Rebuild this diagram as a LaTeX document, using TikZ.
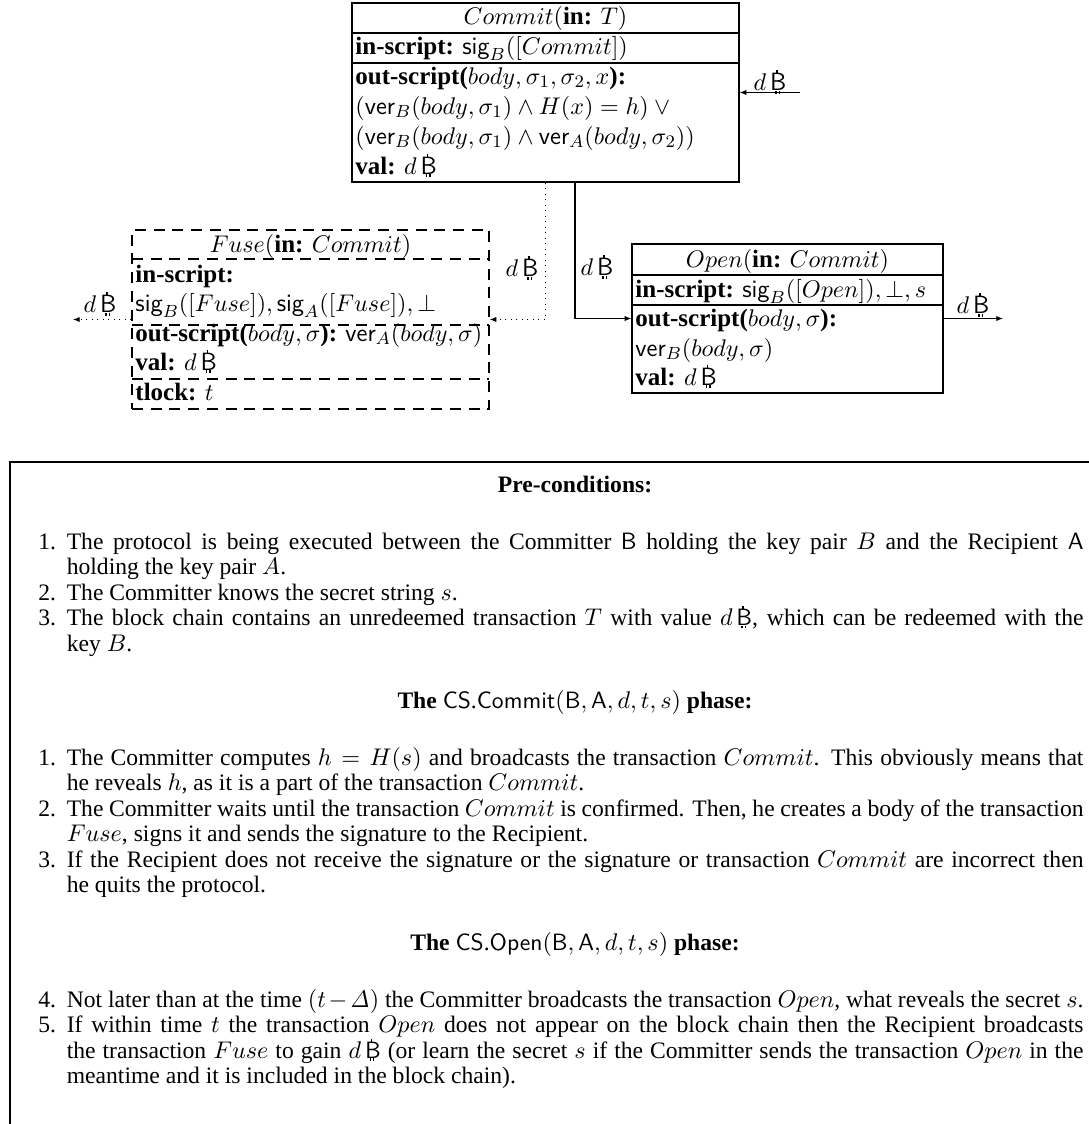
\documentclass[tikz,border=0pt]{standalone}
\usepackage[no-math]{fontspec}
\setmainfont{Liberation Serif}
\usetikzlibrary{arrows.meta,fit}

\newcommand\btc{\mbox{\sffamily\makebox[0pt][l]{\hspace{0.2em}\rule[-0.12em]{0.06em}{0.12em}\hspace{0.08em}\rule[-0.12em]{0.06em}{0.12em}}\makebox[0pt][l]{\hspace{0.25em}\rule[0.69em]{0.06em}{0.13em}}B}}
\newcommand\sg{\textsf{sig}}
\newcommand\vr{\textsf{ver}}
\newcommand\boxfont{\fontsize{11.36}{13.52}\selectfont}
\newcommand\listfont{\fontsize{10.73}{11.6}\selectfont}
\newcommand\itm[1]{\par\noindent\hangindent=12.9pt\hangafter=1\makebox[12.9pt][l]{#1}\ignorespaces}

\tikzset{
  tbox/.style={draw, line width=0.6pt, inner sep=0pt},
  fusebox/.style={tbox, dash pattern=on 5pt off 3.5pt},
  sepline/.style={line width=0.6pt},
  fsepline/.style={sepline, dash pattern=on 5pt off 3.5pt},
  conn/.style={line width=0.5pt, -{Latex[length=3pt,width=2.4pt]}},
  dconn/.style={conn, dotted},
  txt/.style={inner sep=0pt, anchor=base west, font=\boxfont},
  ttl/.style={inner sep=0pt, anchor=base, font=\boxfont},
  lab/.style={inner sep=0pt, font=\boxfont},
  head/.style={inner sep=0pt, anchor=base, font=\listfont},
  lst/.style={inner sep=0pt, anchor=base west, font=\listfont},
}

\begin{document}
\begin{tikzpicture}[x=0.4545pt,y=-0.4545pt]
\useasboundingbox (0,0) rectangle (1089,1124);

% ---------- Commit ----------
\node[tbox, fit={(352,3) (739,182)}] (commit) {};
\draw[sepline] (352,33) -- (739,33);
\draw[sepline] (352,63) -- (739,63);
\node[ttl] (c0) at (545.5,24) {$Commit($\textbf{in:} $T)$};
\node[txt] (c1) at (355,54) {\textbf{in-script:} $\sg_B([Commit])$};
\node[txt] (c2) at (355,84) {\textbf{out-script(}$body,\sigma_1,\sigma_2,x$\textbf{):}};
\node[txt] (c3) at (355,114) {$(\vr_B(body,\sigma_1)\wedge H(x)=h)\vee{}$};
\node[txt] (c4) at (355,144) {$(\vr_B(body,\sigma_1)\wedge\vr_A(body,\sigma_2))$};
\node[txt] (c5) at (355,174) {\textbf{val:} $d$\,\btc};

% ---------- Fuse ----------
\node[fusebox, fit={(132,230) (489,409)}] (fuse) {};
\draw[fsepline] (132,259) -- (489,259);
\draw[fsepline] (132,325) -- (489,325);
\draw[fsepline] (132,379) -- (489,379);
\node[ttl] (f0) at (310.5,252) {$Fuse($\textbf{in:} $Commit)$};
\node[txt] (f1) at (135,282) {\textbf{in-script:}};
\node[txt] (f2) at (135,311) {$\sg_B([Fuse]),\sg_A([Fuse]),\bot$};
\node[txt] (f3) at (135,341) {\textbf{out-script(}$body,\sigma$\textbf{):} $\vr_A(body,\sigma)$};
\node[txt] (f4) at (135,370) {\textbf{val:} $d$\,\btc};
\node[txt] (f5) at (135,400) {\textbf{tlock:} $t$};

% ---------- Open ----------
\node[tbox, fit={(632,244) (943,393)}] (open) {};
\draw[sepline] (632,275) -- (943,275);
\draw[sepline] (632,305) -- (943,305);
\node[ttl] (o0) at (787.5,267) {$Open($\textbf{in:} $Commit)$};
\node[txt] (o1) at (635,297) {\textbf{in-script:} $\sg_B([Open]),\bot,s$};
\node[txt] (o2) at (635,326) {\textbf{out-script(}$body,\sigma$\textbf{):}};
\node[txt] (o3) at (635,356) {$\vr_B(body,\sigma)$};
\node[txt] (o4) at (635,385) {\textbf{val:} $d$\,\btc};

% ---------- connectors ----------
\coordinate (cin) at (800,92.5);
\coordinate (fout) at (73,319.5);
\coordinate (oout) at (1003,318.5);
\draw[conn] (cin) -- (commit.east);
\draw[dconn] (commit.south) |- (fuse.east);
\draw[conn] ([xshift=13.4pt]commit.south) |- (open.west);
\draw[dconn] (fuse.west) -- (fout);
\draw[conn] (open.east) -- (oout);

\node[lab] (l1) at (770,82) {$d$\,\btc};
\node[lab] (l2) at (522,268) {$d$\,\btc};
\node[lab] (l3) at (597,267) {$d$\,\btc};
\node[lab] (l4) at (100,304) {$d$\,\btc};
\node[lab] (l5) at (973,305) {$d$\,\btc};

% ---------- protocol text ----------
\draw[sepline] (10,1124) -- (10,462) -- (1089,462);

\node[head] (h1) at (575,492) {\textbf{Pre-conditions:}};
\node[lst] (p1) at (38,549) {\begin{minipage}[t]{475pt}\tolerance=9999
\itm{1.}The protocol is being executed between the Committer \textsf{B} holding the key pair $B$ and the Recipient \textsf{A}\linebreak holding the key pair $A$.
\itm{2.}The Committer knows the secret string $s$.
\itm{3.}The block chain contains an unredeemed transaction $T$ with value $d$\,\btc, which can be redeemed with the\linebreak key $B$.
\end{minipage}};

\node[head] (h2) at (575,708) {\textbf{The} \textsf{CS}.\textsf{Commit}$(\textsf{B},\textsf{A},d,t,s)$ \textbf{phase:}};
\node[lst] (p2) at (38,765) {\begin{minipage}[t]{475pt}\tolerance=9999
\itm{1.}The Committer computes $h=H(s)$ and broadcasts the transaction $Commit$. This obviously means that\linebreak he reveals $h$, as it is a part of the transaction $Commit$.
\itm{2.}The Committer waits until the transaction $Commit$ is confirmed. Then, he creates a body of the transaction\linebreak $Fuse$, signs it and sends the signature to the Recipient.
\itm{3.}If the Recipient does not receive the signature or the signature or transaction $Commit$ are incorrect then\linebreak he quits the protocol.
\end{minipage}};

\node[head] (h3) at (575,950) {\textbf{The} \textsf{CS}.\textsf{Open}$(\textsf{B},\textsf{A},d,t,s)$ \textbf{phase:}};
\node[lst] (p3) at (38,1007) {\begin{minipage}[t]{475pt}\tolerance=9999
\itm{4.}Not later than at the time $(t\mkern2mu{-}\mkern2mu\mathit{\Delta})$ the Committer broadcasts the transaction $Open$, what reveals the secret $s$.
\itm{5.}If within time $t$ the transaction $Open$ does not appear on the block chain then the Recipient broadcasts\linebreak the transaction $Fuse$ to gain $d$\,\btc{} (or learn the secret $s$ if the Committer sends the transaction $Open$ in the\linebreak meantime and it is included in the block chain).
\end{minipage}};
\end{tikzpicture}
\end{document}
